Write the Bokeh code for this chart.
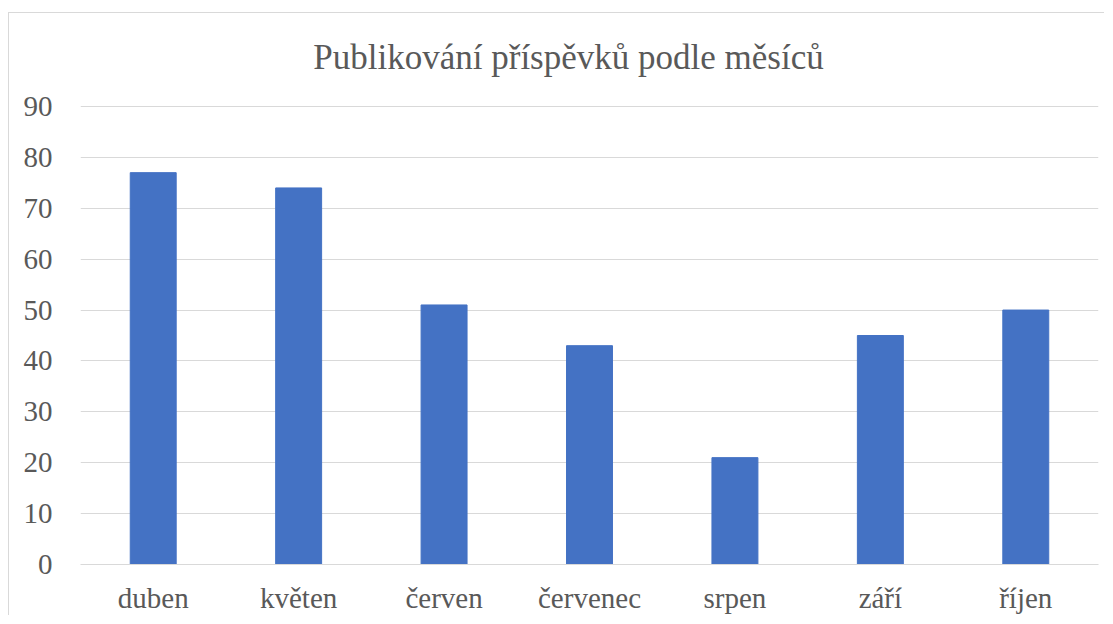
from bokeh.plotting import figure
from bokeh.models import Label, FixedTicker, FactorRange, Range1d
from bokeh.embed import file_html
from bokeh.resources import INLINE

months = ["duben", "květen", "červen", "červenec", "srpen", "září", "říjen"]
posts = [77, 74, 51, 43, 21, 45, 50]
y_ticks = [0, 10, 20, 30, 40, 50, 60, 70, 80, 90]
title_text = "Publikování příspěvků podle měsíců"

FONT = "Liberation Serif"
TXT = "#595959"
GRID = "#d9d9d9"

H = 603
BOTTOM = 52
# extend the range above 90 so the frame also holds the title area
y_top = 90 * (H - BOTTOM) / 458

p = figure(x_range=FactorRange(*months, range_padding=0), y_range=Range1d(0, y_top),
           width=1096, height=H, output_backend="svg", toolbar_location=None,
           min_border_left=71, min_border_right=7, min_border_top=0, min_border_bottom=BOTTOM)
p.styles = {"border-left": f"1px solid {GRID}", "border-top": f"1px solid {GRID}",
            "margin-top": "12px", "margin-left": "8px"}

p.vbar(x=months, top=posts, width=0.316, color="#4472C4")

t = Label(text=title_text, x=488, y=507, x_units="screen", y_units="screen",
          text_align="center", text_baseline="alphabetic", text_font=FONT,
          text_font_size="35px", text_color=TXT)
p.add_layout(t)

p.outline_line_color = None
p.xgrid.grid_line_color = None
p.ygrid.grid_line_color = GRID
p.ygrid.grid_line_width = 1
p.yaxis.ticker = FixedTicker(ticks=y_ticks)
p.yaxis.axis_line_color = None
p.yaxis.major_tick_line_color = None
p.yaxis.minor_tick_line_color = None
p.yaxis.major_label_standoff = 22
p.xaxis.axis_line_color = GRID
p.xaxis.major_tick_line_color = None
p.xaxis.minor_tick_line_color = None
p.xaxis.major_label_standoff = 11
for ax in (p.xaxis, p.yaxis):
    ax.major_label_text_font = FONT
    ax.major_label_text_font_size = "29px"
    ax.major_label_text_color = TXT

open("out.html", "w").write(file_html(p, INLINE))
